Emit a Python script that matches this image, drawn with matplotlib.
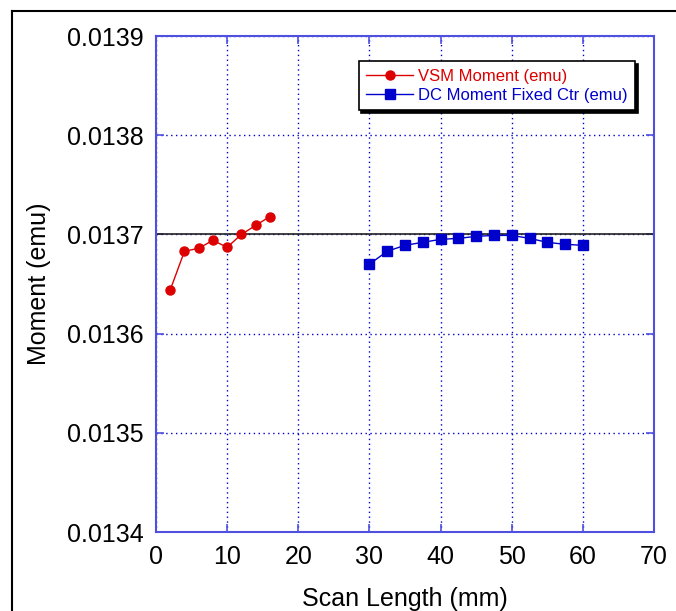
import numpy as np
import matplotlib
matplotlib.use('Agg')
import matplotlib.pyplot as plt
from matplotlib.lines import Line2D

# --------------------------------------------------------------------------- #
# Data
# --------------------------------------------------------------------------- #
vsmScan = [2, 4, 6, 8, 10, 12, 14, 16]
vsmMoment = [0.013644, 0.013683, 0.013686, 0.013694, 0.013687, 0.013700,
             0.013709, 0.013718]

dcScan = [30, 32.5, 35, 37.5, 40, 42.5, 45, 47.5, 50, 52.5, 55, 57.5, 60]
dcMoment = [0.013670, 0.013683, 0.013689, 0.013692, 0.013695, 0.013696,
            0.013698, 0.013699, 0.013699, 0.013696, 0.013692, 0.013690,
            0.013689]

refMoment = 0.0137
xTicks = [0, 10, 20, 30, 40, 50, 60, 70]
yTicks = [0.0134, 0.0135, 0.0136, 0.0137, 0.0138, 0.0139]

# --------------------------------------------------------------------------- #
# Plot
# --------------------------------------------------------------------------- #
plt.rcParams['font.family'] = ['Liberation Sans', 'DejaVu Sans']

red = '#dd0000'
blue = '#0000cc'
axisBlue = '#5050e0'

fig = plt.figure(figsize=(6.76, 6.11), dpi=100)
ax = fig.add_axes([156/676, 1 - 532/611, (654 - 156)/676, (532 - 36)/611])

# outer frame (left and top edges visible)
fig.add_artist(Line2D([12/676, 12/676], [0, 1 - 11/611], transform=fig.transFigure,
                      color='black', lw=1.5))
fig.add_artist(Line2D([12/676, 1], [1 - 11/611, 1 - 11/611], transform=fig.transFigure,
                      color='black', lw=1.5))

ax.axhline(refMoment, color='#222222', lw=1.2, zorder=2)

ax.plot(vsmScan, vsmMoment, '-o', color=red, lw=1.0, ms=6.5,
        label='VSM Moment (emu)', zorder=3)
ax.plot(dcScan, dcMoment, '-s', color=blue, lw=1.0, ms=6.5,
        label='DC Moment Fixed Ctr (emu)', zorder=3)

ax.set_xlim(0, 70)
ax.set_ylim(0.0134, 0.0139)
ax.set_xticks(xTicks)
ax.set_yticks(yTicks)
ax.set_yticklabels(["{:.4f}".format(v) for v in yTicks])

ax.grid(True, color=blue, linestyle=(0, (1, 2.5)), lw=1.0)
for s in ax.spines.values():
  s.set_color(axisBlue)
  s.set_linewidth(1.5)
ax.tick_params(direction='in', length=6, color=axisBlue, width=1.2,
               labelsize=18, pad=9, top=True, right=True)

ax.set_xlabel('Scan Length (mm)', fontsize=18, labelpad=13)
ax.set_ylabel('Moment (emu)', fontsize=18, labelpad=11)

leg = ax.legend(loc='upper right', bbox_to_anchor=((635 - 156)/498, 1 - (61 - 36)/496),
                fontsize=12, frameon=True, fancybox=False, shadow={'color': 'black', 'alpha': 1.0},
                handlelength=2.8, handletextpad=0.3, borderpad=0.45, labelspacing=0.25,
                borderaxespad=0.0)
leg.get_frame().set_edgecolor('black')
leg.get_frame().set_linewidth(1.2)
for txt, c in zip(leg.get_texts(), [red, blue]):
  txt.set_color(c)

plt.savefig('out.png', dpi=100)
